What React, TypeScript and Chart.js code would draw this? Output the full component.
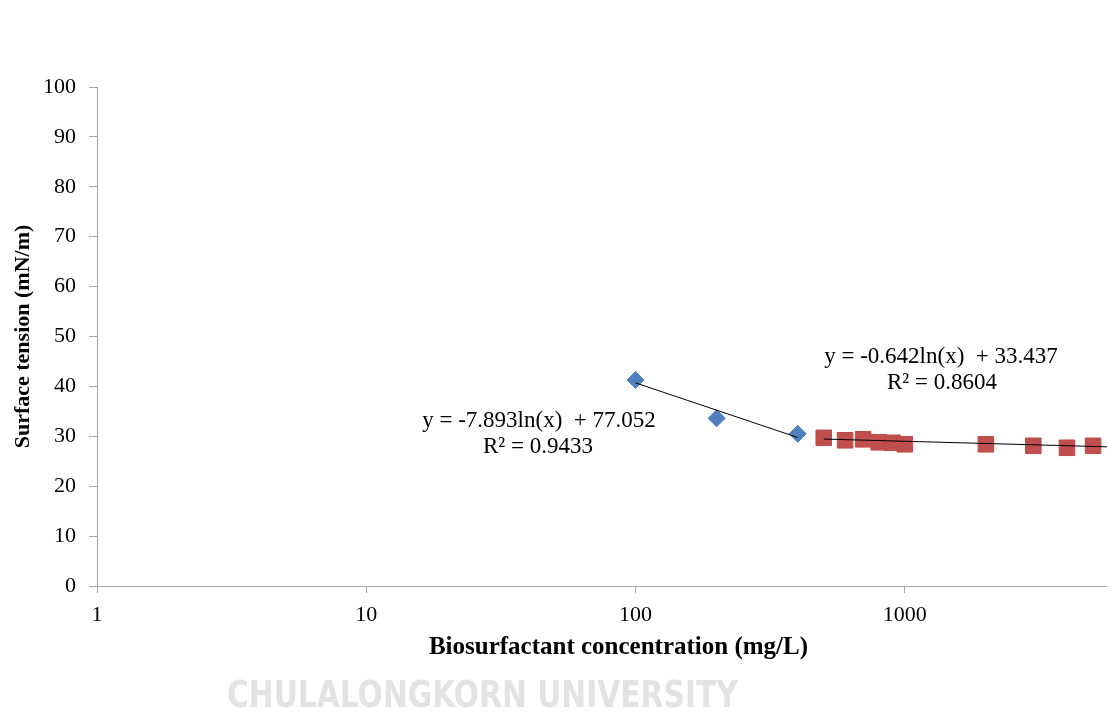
import React, { useEffect, useRef } from "react";
import { Chart, registerables } from "chart.js";

Chart.register(...registerables);

// Data
const blueConc = [100, 200, 400];
const blueTension = [41.3, 33.6, 30.5];
const redConc = [500, 600, 700, 800, 900, 1000, 2000, 3000, 4000, 5000];
const redTension = [29.7, 29.2, 29.4, 28.8, 28.7, 28.4, 28.4, 28.1, 27.7, 28.1];
const xTickValues = [1, 10, 100, 1000];
const yTickStep = 10;

// Logarithmic trend lines shown on the chart: y = a*ln(x) + b
const blueFit = [-7.893, 77.052];
const redFit = [-0.642, 33.437];
const X_MIN = 1;
const X_MAX = 7470; // the reference plot is cropped at the right edge
const blueFitRange = [100, 400];
const redFitRange = [500, X_MAX];

const blueLabel = ["y = -7.893ln(x)  + 77.052", "R² = 0.9433"];
const redLabel = ["y = -0.642ln(x)  + 33.437", "R² = 0.8604"];

const fitPts = (fit: number[], range: number[]) =>
  range.map((x) => ({ x, y: fit[0] * Math.log(x) + fit[1] }));

const SERIF = '"Liberation Serif", "Times New Roman", serif';
const CANVAS_W = 1152;
const CANVAS_H = 712;

const labelsPlugin = {
  id: "fitLabels",
  afterDatasetsDraw(chart: any) {
    const { ctx, chartArea } = chart;
    ctx.save();
    ctx.font = `23px ${SERIF}`;
    ctx.fillStyle = "#000";
    ctx.textAlign = "center";
    ctx.textBaseline = "middle";
    const l = chartArea.left;
    const t = chartArea.top;
    ctx.fillText(blueLabel[0], l + 442, t + 334);
    ctx.fillText(blueLabel[1], l + 441, t + 360);
    ctx.fillText(redLabel[0], l + 844, t + 270);
    ctx.fillText(redLabel[1], l + 845, t + 296);
    ctx.restore();
  },
};

export default function App() {
  const ref = useRef<HTMLCanvasElement | null>(null);

  useEffect(() => {
    if (!ref.current) return;
    const axisColor = "#a6a6a6";
    const chart = new Chart(ref.current, {
      type: "scatter",
      data: {
        datasets: [
          {
            label: "fit1",
            type: "line",
            data: fitPts(blueFit, blueFitRange),
            borderColor: "#000",
            borderWidth: 1,
            pointRadius: 0,
            fill: false,
          },
          {
            label: "fit2",
            type: "line",
            data: fitPts(redFit, redFitRange),
            borderColor: "#000",
            borderWidth: 1,
            pointRadius: 0,
            fill: false,
          },
          {
            label: "low",
            data: blueConc.map((x, i) => ({ x, y: blueTension[i] })),
            pointStyle: "rectRot",
            pointRadius: 8.5,
            backgroundColor: "#4F81BD",
            borderColor: "#4A7EBB",
            borderWidth: 1,
          },
          {
            label: "high",
            data: redConc.map((x, i) => ({ x, y: redTension[i] })),
            pointStyle: "rect",
            pointRadius: 11,
            backgroundColor: "#C0504D",
            borderColor: "#BE4B48",
            borderWidth: 1,
          },
        ],
      },
      options: {
        animation: false,
        responsive: false,
        maintainAspectRatio: false,
        devicePixelRatio: 1,
        layout: { padding: { top: 87, right: 0, left: 0, bottom: 0 } },
        plugins: {
          legend: { display: false },
          tooltip: { enabled: false },
        },
        scales: {
          x: {
            type: "logarithmic",
            min: X_MIN,
            max: X_MAX,
            afterBuildTicks: (scale: any) => {
              scale.ticks = xTickValues.map((v) => ({ value: v }));
            },
            afterFit: (scale: any) => {
              scale.height = CANVAS_H - 586;
              scale.paddingLeft = 0;
              scale.paddingRight = 0;
            },
            grid: {
              display: true,
              drawOnChartArea: false,
              drawTicks: true,
              tickLength: 7,
              color: axisColor,
            },
            border: { display: true, color: axisColor, width: 1 },
            ticks: {
              autoSkip: false,
              maxRotation: 0,
              padding: 9,
              color: "#000",
              font: { family: SERIF, size: 22 },
              callback: (v: any) => String(v),
            },
            title: {
              display: true,
              text: "Biosurfactant concentration (mg/L)",
              color: "#000",
              font: { family: SERIF, size: 25, weight: "bold" },
              padding: { top: 0, bottom: 49 },
            },
          },
          y: {
            min: 0,
            max: 100,
            afterFit: (scale: any) => {
              scale.width = 97;
            },
            grid: {
              display: true,
              drawOnChartArea: false,
              drawTicks: true,
              tickLength: 8,
              color: axisColor,
            },
            border: { display: true, color: axisColor, width: 1 },
            ticks: {
              stepSize: yTickStep,
              padding: 13,
              color: "#000",
              font: { family: SERIF, size: 22 },
            },
            title: {
              display: true,
              text: "Surface tension (mN/m)",
              color: "#000",
              font: { family: SERIF, size: 22, weight: "bold" },
              padding: { top: 10, bottom: 0 },
            },
          },
        },
      },
      plugins: [labelsPlugin],
    } as any);
    return () => chart.destroy();
  }, []);

  return (
    <div
      style={{
        position: "absolute",
        left: 0,
        top: 0,
        width: 1107,
        height: 712,
        background: "#fff",
        overflow: "hidden",
      }}
    >
      <canvas
        ref={ref}
        width={CANVAS_W}
        height={CANVAS_H}
        style={{ position: "absolute", left: 0, top: 0, width: CANVAS_W, height: CANVAS_H, display: "block" }}
      />
      <div
        style={{
          position: "absolute",
          left: 227,
          top: 672,
          fontFamily: '"DejaVu Sans Condensed", "DejaVu Sans", sans-serif',
          fontWeight: "bold",
          fontSize: 38,
          color: "#e3e3e3",
          lineHeight: "44px",
          whiteSpace: "nowrap",
          transform: "scaleX(0.87)",
          transformOrigin: "left top",
          pointerEvents: "none",
        }}
      >
        CHULALONGKORN UNIVERSITY
      </div>
    </div>
  );
}
